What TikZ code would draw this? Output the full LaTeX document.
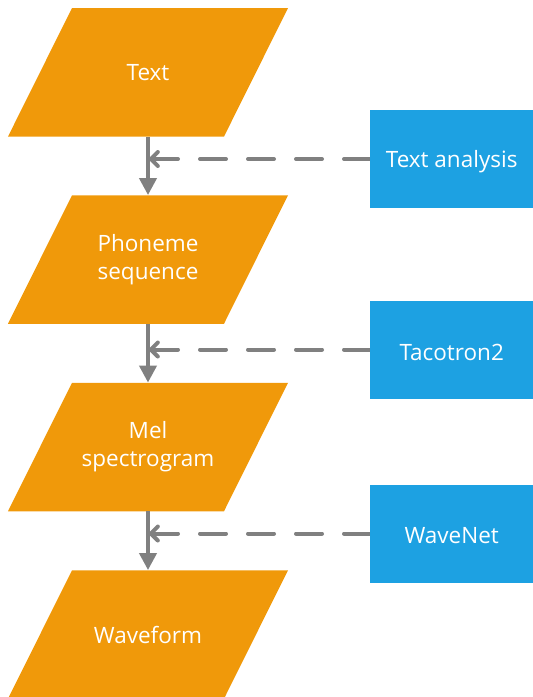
\documentclass[tikz,border=0pt]{standalone}
\usepackage{fontspec}
\setmainfont{Open Sans}
\usetikzlibrary{arrows.meta}
\definecolor{orangec}{RGB}{240,153,10}
\definecolor{bluec}{RGB}{29,161,226}
\definecolor{grayc}{RGB}{128,128,128}
\newcommand{\lowered}[1]{\raisebox{-2.5bp}[\height][\depth]{#1}}
\tikzset{
  para/.style={minimum width=280bp, minimum height=128.5bp, inner sep=0pt, text=white, align=center,
    font=\fontsize{22.5bp}{28bp}\selectfont,
    path picture={\fill[orangec] ([xshift=64bp]path picture bounding box.north west) -- (path picture bounding box.north east) -- ([xshift=-64bp]path picture bounding box.south east) -- (path picture bounding box.south west) -- cycle;}},
  tool/.style={fill=bluec, minimum width=163bp, minimum height=98bp, inner sep=0pt, text=white,
    font=\fontsize{22.5bp}{28bp}\selectfont},
  flow/.style={draw=grayc, line width=4bp, -{Triangle[length=17bp,width=17bp]}},
  feed/.style={draw=grayc, line width=4bp, line cap=round, line join=round, dash pattern=on 26bp off 22bp, -{Straight Barb[length=7bp,width=14bp,line cap=round]}}
}
\begin{document}
\begin{tikzpicture}[x=1bp,y=-1bp]
\useasboundingbox (0,0) rectangle (533,697);
\node[para] (t) at (148,72.3) {Text};
\node[para] (p) at (148,259.5) {Phoneme\\sequence};
\node[para] (m) at (148,447) {Mel\\spectrogram};
\node[para] (w) at (148,634.5) {Waveform};
\draw[flow] (t.south) -- (p.north);
\draw[flow] (p.south) -- (m.north);
\draw[flow] (m.south) -- (w.north);
\coordinate (c1) at (370,159);
\coordinate (c2) at (370,349.5);
\coordinate (c3) at (370,533.5);
\draw[feed] (c1) -- (c1 -| t.south);
\draw[feed] (c2) -- (c2 -| p.south);
\draw[feed] (c3) -- (c3 -| m.south);
\node[tool, anchor=west] (ta) at (c1) {\lowered{Text analysis}};
\node[tool, anchor=west] (tc) at (c2) {\lowered{Tacotron2}};
\node[tool, anchor=west] (wn) at (c3) {\lowered{WaveNet}};
\end{tikzpicture}
\end{document}
